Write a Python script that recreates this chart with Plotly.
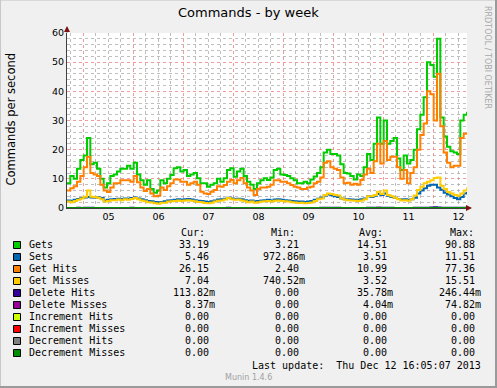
import plotly.graph_objects as go
import pandas as pd

# ---------------- data (96-minute samples) ----------------
start_time = "2013-12-04 16:05"
n_points = 121
times = pd.date_range(start_time, periods=n_points, freq="96min")

gets = [
    8.5, 11, 10, 13.5, 16.5, 18, 24, 15, 15.5, 13.5,
    10, 7, 8.5, 11, 11.5, 12.5, 13.5, 13.5, 14.5, 13.5,
    15.5, 11.5, 9.5, 8, 9.5, 6.5, 5.2, 6, 9.5, 8.5,
    10, 11.3, 13.6, 14, 12.5, 13, 11, 11.5, 12, 10.2,
    8.5, 8.5, 7.3, 8, 8.5, 10, 9, 10.2, 13, 13.6,
    10.7, 12.5, 13.5, 11, 9, 8, 6.5, 8.5, 9.5, 10.2,
    9.6, 10.5, 13, 13.5, 11.5, 11.3, 11, 10.2, 9.5, 8.5,
    8.5, 9, 8.5, 9.8, 10.8, 12, 14, 19, 20, 18.5,
    18.5, 18, 15, 12, 11.8, 11, 9.8, 11.5, 11, 14,
    18.5, 16.5, 22, 31, 22, 30, 22, 23, 24, 17,
    13, 18, 15.3, 16.5, 20, 27, 32, 38, 50, 49,
    45, 58, 31, 24.5, 21, 19.5, 19, 18.5, 30, 32,
    33,
]

sets = [
    2.6, 2.5, 2.8, 3.1, 3.4, 3.6, 3.8, 3.6, 3.5, 3.7,
    3.4, 2.6, 2.8, 3.0, 3.1, 3.2, 3.1, 3.3, 3.2, 3.4,
    3.6, 3.3, 3.0, 2.7, 2.4, 2.3, 2.1, 2.0, 2.1, 2.3,
    2.6, 2.7, 2.8, 3.0, 2.8, 3.0, 3.1, 2.9, 2.7, 2.5,
    2.4, 2.2, 2.1, 2.3, 2.6, 2.9, 3.0, 3.2, 3.5, 3.3,
    3.1, 3.2, 3.0, 2.7, 2.5, 2.6, 2.3, 2.4, 2.6, 2.7,
    2.8, 2.6, 2.9, 3.0, 2.8, 2.7, 2.6, 2.4, 2.3, 2.2,
    2.2, 2.1, 2.2, 2.4, 2.8, 3.2, 3.5, 4.3, 4.6, 4.4,
    4.0, 3.8, 3.3, 3.0, 3.0, 2.9, 2.8, 2.8, 3.0, 3.3,
    4.0, 3.8, 4.2, 4.8, 4.5, 5.0, 4.2, 3.8, 3.5, 3.1,
    2.9, 3.0, 2.8, 3.0, 3.5, 5.0, 6.0, 6.8, 7.6, 8.0,
    8.0, 7.0, 6.3, 5.2, 4.6, 4.0, 3.4, 3.0, 3.8, 5.0,
    5.5,
]

get_hits = [
    6, 6.8, 7.5, 9, 11, 14, 17.6, 12, 11.5, 11,
    8, 6, 5.5, 7, 8.5, 8.5, 9.5, 9.5, 9.5, 9,
    11, 8.8, 7, 5.8, 6.5, 5, 4, 4.2, 7, 6.2,
    7.5, 8.5, 9.8, 9.8, 9, 9, 8, 8.5, 9, 8,
    5.6, 5, 4.8, 5.6, 6.2, 7.5, 7.3, 7.9, 9, 9.6,
    8.5, 9.5, 10.3, 8.5, 7, 6, 4.5, 6.5, 7, 7,
    7.3, 8, 9.5, 9.5, 9, 9, 8.5, 7.9, 7.3, 7,
    6.5, 6.5, 7, 7.3, 8.5, 9, 10.5, 15.5, 16, 14,
    13.5, 13, 10.5, 8.5, 8.7, 8, 8.3, 8, 9.6, 11.5,
    13.5, 12, 16, 22, 15.3, 23, 16.5, 17.6, 17.6, 14,
    10, 13, 8.5, 12, 14, 20, 25, 29, 40, 39,
    30, 46, 28, 19, 15.5, 14, 14.5, 14.5, 24, 25.5,
    26,
]

get_misses = [
    2.2, 2.0, 2.4, 2.8, 3.3, 3.9, 6.0, 3.9, 3.7, 3.5,
    3.0, 2.2, 2.4, 2.7, 2.7, 2.9, 2.7, 3.0, 2.8, 3.1,
    3.4, 3.0, 2.6, 2.3, 2.0, 1.9, 1.6, 1.5, 1.8, 1.8,
    2.2, 2.3, 2.4, 2.6, 2.4, 2.6, 2.7, 2.5, 2.3, 2.1,
    2.0, 1.7, 1.6, 1.8, 2.2, 2.5, 2.6, 2.9, 3.4, 3.0,
    2.8, 2.9, 2.6, 2.3, 2.0, 2.2, 1.8, 2.0, 2.2, 2.3,
    2.4, 2.2, 2.5, 2.6, 2.4, 2.3, 2.2, 2.0, 1.9, 1.7,
    1.8, 1.6, 1.7, 1.9, 2.4, 3.0, 3.3, 4.5, 5.0, 4.8,
    4.5, 4.3, 3.3, 2.8, 2.7, 2.6, 2.5, 2.4, 2.6, 3.0,
    4.0, 4.0, 4.5, 5.6, 4.8, 6.0, 4.5, 4.0, 3.5, 3.0,
    2.6, 2.7, 2.5, 3.0, 4.3, 6.2, 7.3, 8.5, 9.0, 9.5,
    10.3, 10.5, 7.6, 6.5, 5.5, 5.0, 4.5, 4.2, 5.0, 6.0,
    7.0,
]

delete_hits = [
    0.03, 0.04, 0.03, 0.05, 0.04, 0.06, 0.08, 0.05, 0.04, 0.03,
    0.02, 0.02, 0.03, 0.03, 0.04, 0.03, 0.04, 0.03, 0.04, 0.05,
    0.04, 0.03, 0.02, 0.02, 0.01, 0.01, 0.01, 0.02, 0.02, 0.02,
    0.03, 0.03, 0.04, 0.04, 0.03, 0.04, 0.03, 0.03, 0.02, 0.02,
    0.01, 0.01, 0.01, 0.02, 0.02, 0.03, 0.03, 0.04, 0.05, 0.04,
    0.03, 0.04, 0.03, 0.02, 0.02, 0.02, 0.01, 0.02, 0.02, 0.03,
    0.03, 0.03, 0.04, 0.04, 0.03, 0.03, 0.03, 0.02, 0.02, 0.01,
    0.01, 0.01, 0.01, 0.02, 0.03, 0.04, 0.05, 0.07, 0.08, 0.07,
    0.06, 0.05, 0.04, 0.03, 0.03, 0.03, 0.03, 0.03, 0.03, 0.04,
    0.05, 0.05, 0.06, 0.08, 0.06, 0.09, 0.06, 0.05, 0.04, 0.03,
    0.03, 0.03, 0.03, 0.04, 0.05, 0.07, 0.09, 0.10, 0.12, 0.15,
    0.25, 0.14, 0.10, 0.08, 0.07, 0.06, 0.05, 0.05, 0.06, 0.09,
    0.11,
]

delete_misses = [
    0.00, 0.01, 0.00, 0.00, 0.01, 0.00, 0.02, 0.00, 0.00, 0.01,
    0.00, 0.00, 0.00, 0.01, 0.00, 0.00, 0.00, 0.01, 0.00, 0.00,
    0.01, 0.00, 0.00, 0.00, 0.00, 0.00, 0.00, 0.00, 0.01, 0.00,
    0.00, 0.00, 0.01, 0.00, 0.00, 0.00, 0.00, 0.01, 0.00, 0.00,
    0.00, 0.00, 0.00, 0.00, 0.00, 0.01, 0.00, 0.00, 0.01, 0.00,
    0.00, 0.00, 0.01, 0.00, 0.00, 0.00, 0.00, 0.00, 0.00, 0.01,
    0.00, 0.00, 0.01, 0.00, 0.00, 0.00, 0.00, 0.00, 0.00, 0.00,
    0.00, 0.00, 0.00, 0.00, 0.00, 0.01, 0.00, 0.02, 0.01, 0.00,
    0.00, 0.01, 0.00, 0.00, 0.00, 0.00, 0.00, 0.00, 0.00, 0.01,
    0.01, 0.00, 0.01, 0.07, 0.01, 0.02, 0.00, 0.01, 0.00, 0.00,
    0.00, 0.00, 0.00, 0.01, 0.01, 0.01, 0.02, 0.01, 0.02, 0.03,
    0.02, 0.03, 0.01, 0.01, 0.00, 0.00, 0.01, 0.00, 0.00, 0.01,
    0.01,
]

increment_hits = [0.0] * n_points
increment_misses = [0.0] * n_points
decrement_hits = [0.0] * n_points
decrement_misses = [0.0] * n_points

series_names = ["Gets", "Sets", "Get Hits", "Get Misses", "Delete Hits",
                "Delete Misses", "Increment Hits", "Increment Misses",
                "Decrement Hits", "Decrement Misses"]
series_values = [gets, sets, get_hits, get_misses, delete_hits, delete_misses,
                 increment_hits, increment_misses, decrement_hits, decrement_misses]
series_colors = ["#00CC00", "#0066B3", "#FF8000", "#FFCC00", "#330099",
                 "#990099", "#CCFF00", "#FF0000", "#808080", "#008F00"]

stat_cur = ["33.19", "5.46", "26.15", "7.04", "113.82m", "8.37m", "0.00", "0.00", "0.00", "0.00"]
stat_min = ["3.21", "972.86m", "2.40", "740.52m", "0.00", "0.00", "0.00", "0.00", "0.00", "0.00"]
stat_avg = ["14.51", "3.51", "10.99", "3.52", "35.78m", "4.04m", "0.00", "0.00", "0.00", "0.00"]
stat_max = ["90.88", "11.51", "77.36", "15.51", "246.44m", "74.82m", "0.00", "0.00", "0.00", "0.00"]

title_text = "Commands - by week"
y_title = "Commands per second"
last_update = "Last update:  Thu Dec 12 16:05:07 2013"
footer = "Munin 1.4.6"
side_text = "RRDTOOL / TOBI OETIKER"

# ---------------- layout geometry ----------------
W, H = 497, 388
ML, MR, MT, MB = 67, 30, 33, 180
PW = W - ML - MR
PH = H - MT - MB


def px(x):
    return (x - ML) / PW


def py(y):
    return (H - MB - y) / PH


MONO = "DejaVu Sans Mono"
SANS = "DejaVu Sans"
RED_GRID = "rgba(240,120,120,0.75)"
GRAY_GRID = "rgba(170,170,170,0.75)"

fig = go.Figure()
for name, vals, col in zip(series_names, series_values, series_colors):
    fig.add_trace(go.Scatter(
        x=times, y=vals, name=name, mode="lines",
        line=dict(color=col, width=2, shape="hv"),
        hoverinfo="skip", showlegend=False,
    ))

annotations = []
shapes = []

# title, axis title, side credit
annotations.append(dict(text=title_text, x=px(248.5), y=py(13), xref="paper", yref="paper",
                        xanchor="center", yanchor="middle", showarrow=False,
                        font=dict(family=SANS, size=13, color="#000000")))
annotations.append(dict(text=y_title, x=px(10.5), y=py(119), xref="paper", yref="paper",
                        xanchor="center", yanchor="middle", showarrow=False, textangle=-90,
                        font=dict(family=SANS, size=11.5, color="#000000")))
annotations.append(dict(text=side_text, x=px(487.5), y=py(4), xref="paper", yref="paper",
                        xanchor="center", yanchor="top", showarrow=False, textangle=90,
                        font=dict(family=SANS, size=8, color="#A8A8A8")))

# axis arrows
annotations.append(dict(text="", x=px(67), y=py(26), xref="paper", yref="paper",
                        showarrow=True, ax=0, ay=8, arrowhead=2, arrowsize=1.2,
                        arrowwidth=1, arrowcolor="#7F1010"))
annotations.append(dict(text="", x=px(472), y=py(208), xref="paper", yref="paper",
                        showarrow=True, ax=-8, ay=0, arrowhead=2, arrowsize=1.2,
                        arrowwidth=1, arrowcolor="#7F1010"))

# legend table
NB = "\u00a0"
header_y = 232.5
for label, cx in [("Cur:", 192.5), ("Min:", 283), ("Avg:", 370.5), ("Max:", 462)]:
    annotations.append(dict(text=label, x=px(cx), y=py(header_y), xref="paper", yref="paper",
                            xanchor="center", yanchor="middle", showarrow=False,
                            font=dict(family=MONO, size=10, color="#000000")))


def fmt(v):
    return v if v.endswith("m") else v + NB


for i, name in enumerate(series_names):
    ry = 244.5 + 12 * i
    shapes.append(dict(type="rect", xref="paper", yref="paper",
                       x0=px(13.5), x1=px(20.5), y0=py(ry + 4), y1=py(ry - 3),
                       fillcolor=series_colors[i], line=dict(color="#000000", width=1)))
    annotations.append(dict(text=name.replace(" ", NB), x=px(26.5), y=py(ry), xref="paper", yref="paper",
                            xanchor="left", yanchor="middle", showarrow=False,
                            font=dict(family=MONO, size=10, color="#000000")))
    for vals, rx in [(stat_cur, 217), (stat_min, 306.5), (stat_avg, 394.5), (stat_max, 483)]:
        annotations.append(dict(text=fmt(vals[i]), x=px(rx), y=py(ry), xref="paper", yref="paper",
                                xanchor="right", yanchor="middle", showarrow=False,
                                font=dict(family=MONO, size=10, color="#000000")))

annotations.append(dict(text=last_update.replace(" ", NB), x=px(483), y=py(365), xref="paper", yref="paper",
                        xanchor="right", yanchor="middle", showarrow=False,
                        font=dict(family=MONO, size=10, color="#000000")))
annotations.append(dict(text=footer, x=px(248), y=py(377), xref="paper", yref="paper",
                        xanchor="center", yanchor="middle", showarrow=False,
                        font=dict(family=SANS, size=8, color="#A0A0A0")))

# image frame (light top/left, dark bottom/right)
shapes.append(dict(type="line", xref="paper", yref="paper", x0=px(0), x1=px(W), y0=py(0.5), y1=py(0.5),
                   line=dict(color="#D8D8D8", width=1)))
shapes.append(dict(type="line", xref="paper", yref="paper", x0=px(0.5), x1=px(0.5), y0=py(0), y1=py(H),
                   line=dict(color="#C8C8C8", width=1)))
shapes.append(dict(type="line", xref="paper", yref="paper", x0=px(W - 1), x1=px(W - 1), y0=py(0), y1=py(H),
                   line=dict(color="#9A9A9A", width=2)))
shapes.append(dict(type="line", xref="paper", yref="paper", x0=px(0), x1=px(W), y0=py(H - 1), y1=py(H - 1),
                   line=dict(color="#9A9A9A", width=2)))

fig.update_layout(
    width=W, height=H,
    margin=dict(l=ML, r=MR, t=MT, b=MB, autoexpand=False),
    paper_bgcolor="#F0F0F0", plot_bgcolor="#FFFFFF",
    showlegend=False,
    font=dict(family=SANS, size=10, color="#000000"),
    annotations=annotations, shapes=shapes,
    xaxis=dict(
        type="date", range=[times[0], times[-1]],
        tick0="2013-12-05", dtick=86400000, tickformat="%d", ticklabelmode="period",
        showgrid=True, gridcolor=RED_GRID, griddash="dot", gridwidth=1,
        minor=dict(tick0="2013-12-05", dtick=6 * 3600000, showgrid=True,
                   gridcolor=GRAY_GRID, griddash="dot", gridwidth=1),
        showline=True, linecolor="#404040", linewidth=1,
        ticks="", zeroline=False, fixedrange=True,
        tickfont=dict(family=SANS, size=9.5, color="#000000"),
    ),
    yaxis=dict(
        range=[0, 60], tick0=0, dtick=10,
        showgrid=True, gridcolor=RED_GRID, griddash="dot", gridwidth=1,
        minor=dict(dtick=2, showgrid=True, gridcolor=GRAY_GRID, griddash="dot", gridwidth=1),
        showline=True, linecolor="#404040", linewidth=1,
        ticks="", zeroline=False, fixedrange=True,
        tickfont=dict(family=SANS, size=9.5, color="#000000"),
    ),
)

fig.write_html(
    "out.html",
    config={"displayModeBar": False, "staticPlot": True},
    post_script="document.body.style.margin='0px';document.body.style.overflow='hidden';",
)
